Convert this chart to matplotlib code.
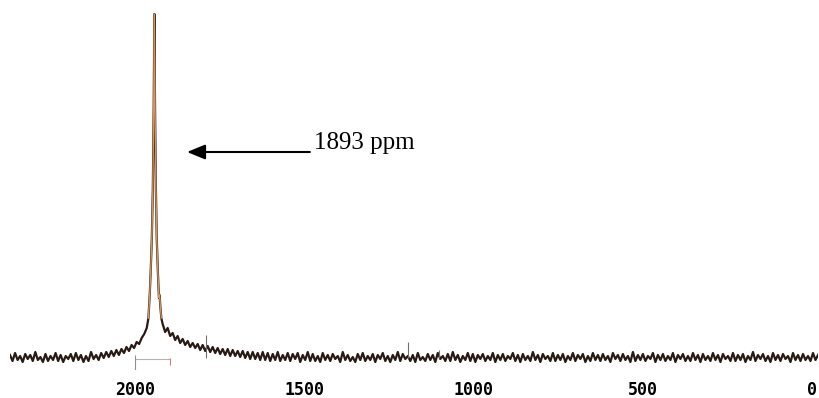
import matplotlib.pyplot as plt
import numpy as np

# noisy baseline left of the main line (2369 -> 1965 ppm), arbitrary units
left_noise = [3, -3, 5, -2, 2, -4, 4, -1, 3, -3, 6, -2, 1, -4, 4, -3, 2, -2, 5, -3,
              3, -4, 2, -1, 4, -3, 5, -2, 3, -4, 2, -3, 6, -1, 3, -2,
              5, 0, 6, 1, 7, 2, 8, 3, 9, 5, 11, 7, 13, 10, 16, 14, 20, 24, 30]
left_range = (2369, 1965)

# main resonance profile (peak height = 344)
peak_ppm = [1960, 1956, 1953, 1950, 1947, 1944.5, 1942.5, 1940.5, 1938, 1935.5,
            1932, 1929, 1927, 1925, 1922]
peak_int = [40, 65, 90, 120, 170, 250, 344, 250, 170, 120,
            85, 60, 63, 52, 40]

# noisy baseline right of the main line (1918 -> -18 ppm)
right_noise = [34, 26, 30, 22, 25, 18, 22, 15, 19, 13, 17, 11, 15, 10, 14, 8, 13, 7, 12, 6,
               11, 5, 10, 4, 9, 3, 9, 2, 8, 2, 7, 1, 7, 0, 6, -1, 6, -1, 5, -2,
               6, -2, 5, -3, 4, -2, 6, -3, 3, -2, 5, -3, 4, -1, 5, -4, 3, -2, 6, -3,
               4, -3, 2, -4, 5, -2, 3, -3, 4, -1, 2, -4, 6, -2, 3, -3, 1, -4, 4, -2,
               5, -3, 2, -2, 4, -4, 3, -1, 5, -3, 2, -4, 3, -2, 6, -3, 4, -1, 2, -3,
               3, -4, 5, -2, 1, -3, 4, -2, 3, -4, 5, -1, 2, -3, 4, -3, 6, -2, 3, -4,
               2, -2, 5, -3, 4, -4, 3, -1, 4, -3, 2, -2, 5, -4, 3, -2, 4, -3, 2, -1,
               5, -3, 3, -4, 4, -2, 2, -3, 6, -2, 3, -4, 4, -1, 2, -3, 5, -3, 3, -2,
               4, -4, 2, -2, 5, -3, 3, -1, 4, -4, 2, -3, 5, -2, 3, -3, 4, -2, 2, -4,
               5, -1, 3, -3, 4, -2, 2, -4, 6, -3, 3, -2, 4, -3, 2, -1, 5, -4, 3, -2,
               4, -3, 2, -2, 5, -4, 3, -1, 4, -3, 2, -3, 5, -2, 3, -4, 4, -2, 2, -3,
               5, -2, 3, -4, 4, -1, 2, -3, 5, -3, 3, -2, 4, -4, 2, -2, 6, -3, 3, -1,
               4, -3, 2, -4, 5, -2, 3, -3, 4, -1, 2, -4, 5, -2, 3, -3, 4, -2, 2, -3, 5, -2, 3]
right_range = (1918, -18)

# small sharp spikes
spike_ppm = [1790, 1193, 1102]
spike_int = [23, 16, 8]

# integration region marker
integral = [2000, 1897]

label_ppm = 1893
ticks = [2000, 1500, 1000, 500, 0]

fig = plt.figure(figsize=(8.2, 3.98), dpi=100)
ax = fig.add_axes([10 / 820, 28 / 398, 808 / 820, 360 / 398])

ppm = np.concatenate([np.linspace(*left_range, len(left_noise)), peak_ppm,
                      np.linspace(*right_range, len(right_noise))])
inten = np.concatenate([left_noise, peak_int, right_noise])
ax.plot(ppm, inten, color='#2a1a14', lw=1.6)
ax.plot(peak_ppm, peak_int, color='#d4955a', lw=1.0)
ax.vlines(spike_ppm, 0, spike_int, color='#707070', lw=0.8)

ax.hlines(-1, integral[0], integral[1], color='#b8b0b0', lw=0.8)
ax.vlines(integral[0], -12, 3, color='#909090', lw=0.8)
ax.vlines(integral[1], -7, 0, color='#c08080', lw=0.8)

ax.annotate('', xy=(1846, 206), xytext=(1483, 206),
            arrowprops=dict(arrowstyle='-|>,head_length=1.1,head_width=0.45',
                            color='black', lw=1.5, shrinkA=0, shrinkB=0))
ax.text(1471, 209, str(label_ppm) + ' ppm', fontsize=18,
        family='Liberation Serif', ha='left', va='baseline')

ax.set_xlim(2369, -18)
ax.set_ylim(-12, 348)
ax.set_xticks(ticks)
ax.set_xticklabels([str(t) for t in ticks], family='DejaVu Sans Mono',
                   fontweight='bold', fontsize=12)
ax.tick_params(axis='x', length=0, pad=8)
ax.set_yticks([])
for s in ax.spines.values():
    s.set_visible(False)

fig.savefig('out.png', dpi=100)
